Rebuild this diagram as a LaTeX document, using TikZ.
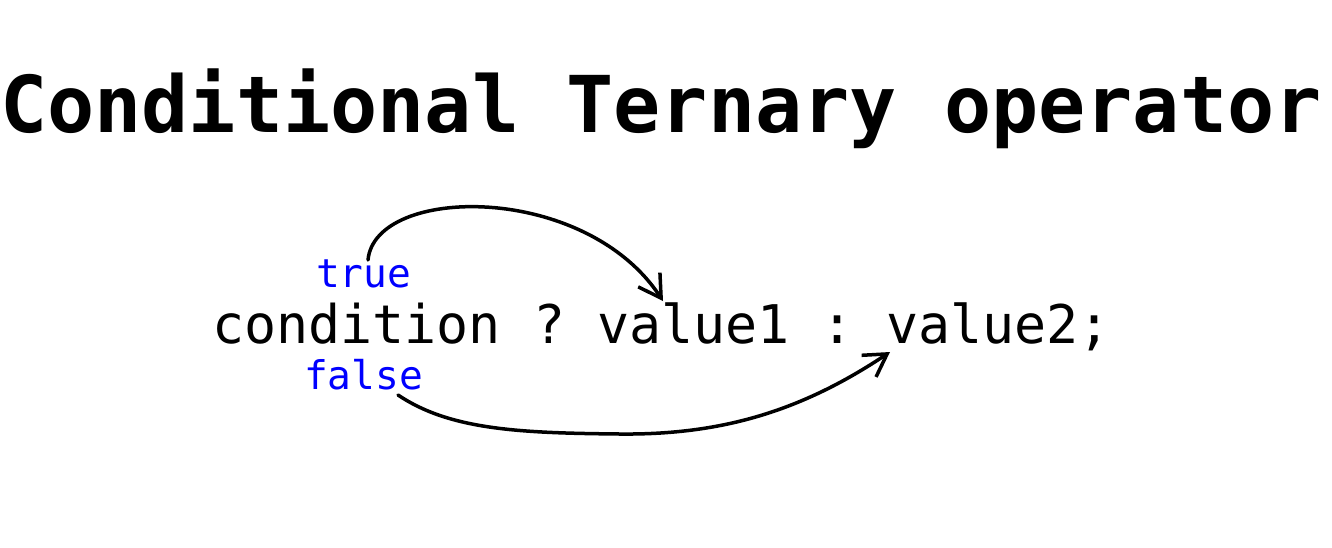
\documentclass[tikz,border=0pt]{standalone}
\usepackage{fontspec}
\setmonofont{DejaVu Sans Mono}
\usetikzlibrary{arrows.meta}
\definecolor{lblblue}{RGB}{0,0,255}
\tikzset{
  titletext/.style={inner sep=0pt, anchor=base west, font=\ttfamily\bfseries\fontsize{78.4}{80}\selectfont},
  codetext/.style={inner sep=0pt, anchor=base west, font=\ttfamily\fontsize{53.3}{56}\selectfont},
  lbltext/.style={inner sep=0pt, anchor=base west, text=lblblue, font=\ttfamily\fontsize{39.5}{42}\selectfont},
  hand/.style={line width=3.5pt, line cap=round, line join=round, -{Straight Barb[length=22pt,width=26pt,line width=3.5pt]}}
}
\begin{document}
\begin{tikzpicture}[x=1pt,y=-1pt]
\useasboundingbox (0,0) rectangle (1332,547);
\node[titletext] (title) at (0,132) {Conditional Ternary operator};
\node[codetext] (code) at (212,343) {condition ? value1 : value2;};
\node[lbltext] (true) at (316,287) {true};
\node[lbltext] (false) at (304,389) {false};
\coordinate (tstart) at (368,260);
\coordinate (tend) at (663,301);
\coordinate (fstart) at (398,395);
\coordinate (fend) at (890,352);
\draw[hand] (tstart) .. controls (375,185) and (585,182) .. (tend);
\draw[hand] (fstart) .. controls (450,430) and (520,433) .. (620,434) .. controls (720,435) and (800,412) .. (fend);
\end{tikzpicture}
\end{document}
